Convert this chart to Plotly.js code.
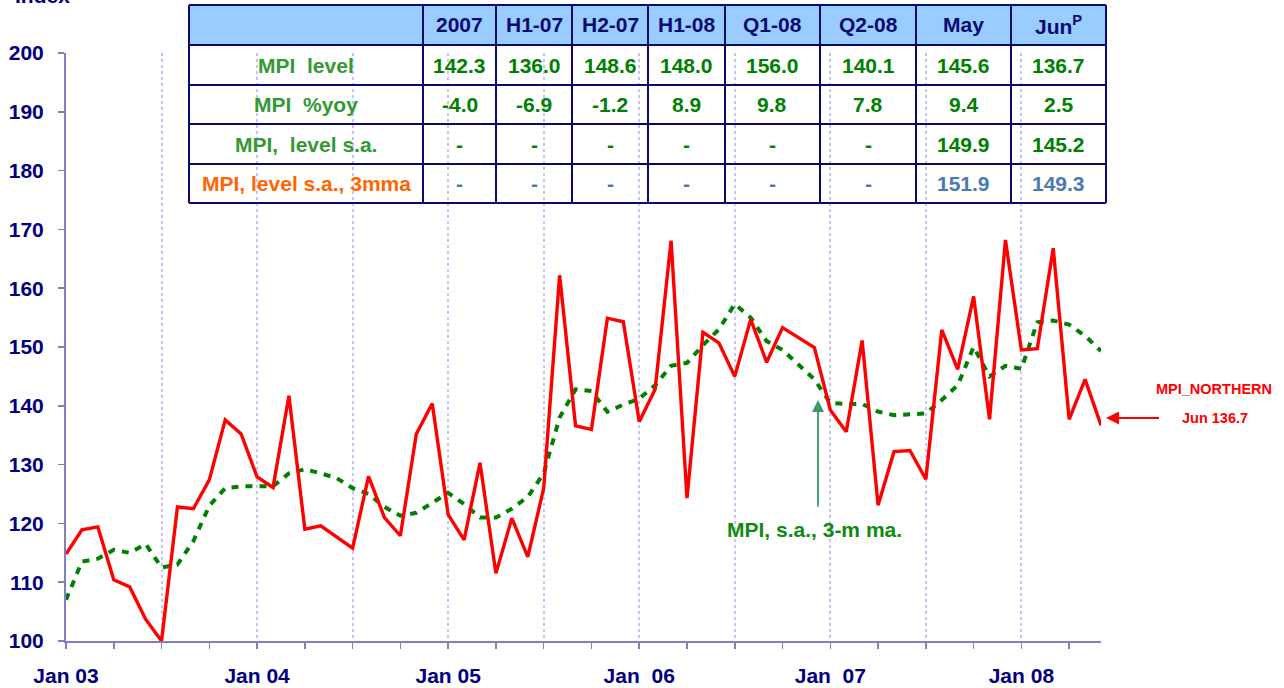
<!DOCTYPE html>
<html>
<head>
<meta charset="utf-8">
<script src="https://cdn.plot.ly/plotly-3.0.1.min.js"></script>
<style>html,body{margin:0;padding:0;background:#fff;}#chart{width:1284px;height:688px;}</style>
</head>
<body>
<div id="chart"></div>
<script>
// ---------- DATA ----------
var monthLabels = ['Jan 03','Jan 04','Jan 05','Jan\u00a0 06','Jan\u00a0 07','Jan 08'];
var mpiNorthern = [114.8,118.9,119.4,110.4,109.2,103.7,100.0,122.8,122.5,127.4,137.6,135.2,
  127.9,126.1,141.7,119.0,119.6,117.7,115.8,128.0,121.0,117.9,135.2,140.4,
  121.5,117.2,130.3,111.5,120.9,114.3,126.0,162.2,136.6,136.0,154.9,154.3,
  137.3,142.8,168.1,124.3,152.5,150.7,145.0,154.7,147.4,153.3,151.6,149.9,
  139.3,135.6,151.1,123.1,132.2,132.4,127.5,152.9,146.2,158.6,137.7,168.2,
  149.5,149.7,166.8,137.7,144.5,136.7];
var mpiSa3mma = [107.0,113.5,114.0,115.5,115.0,116.5,112.5,113.0,117.0,123.0,126.0,126.3,
  126.3,126.3,128.5,129.2,128.5,127.7,126.0,125.0,122.8,121.3,121.8,123.5,
  125.2,123.3,121.0,121.0,122.5,124.5,128.5,138.0,142.8,142.5,139.0,140.2,
  141.2,143.5,146.8,147.3,150.3,153.0,157.3,155.0,151.0,149.5,147.0,144.5,
  140.5,140.3,140.3,139.0,138.4,138.6,138.7,141.0,143.5,150.0,145.0,146.8,
  146.3,154.2,154.5,153.8,151.9,149.3];
var tableHeaders = ['2007','H1-07','H2-07','H1-08','Q1-08','Q2-08','May','Jun<sup>P</sup>'];
var rowLabels = ['MPI  level','MPI  %yoy','MPI,  level s.a.','MPI, level s.a., 3mma'];
var rowLevel = ['142.3','136.0','148.6','148.0','156.0','140.1','145.6','136.7'];
var rowYoy = ['-4.0','-6.9','-1.2','8.9','9.8','7.8','9.4','2.5'];
var rowSa = ['-','-','-','-','-','-','149.9','145.2'];
var rowSa3 = ['-','-','-','-','-','-','151.9','149.3'];

// ---------- LAYOUT HELPERS ----------
var L = 66, R = 1101, T = 53, B = 641;
function px(p){ return (p - L) / (R - L); }
function py(p){ return (B - p) / (B - T); }
var FONT = 'Liberation Sans, Arial, sans-serif';
var NAVY = '#000080';
var AXC = '#8080c0';

var xIdx = mpiNorthern.map(function(_, i){ return i; });
var tickVals = [], tickText = [];
for (var k = 0; k <= 60; k += 6) {
  tickVals.push(k);
  tickText.push(k % 12 === 0 ? monthLabels[k / 12] : '');
}

var traces = [
  {x: xIdx, y: mpiSa3mma, type: 'scatter', mode: 'lines', name: 'MPI, s.a., 3-m ma.',
   line: {color: '#008000', width: 4, dash: '7px,7px'}},
  {x: xIdx, y: mpiNorthern, type: 'scatter', mode: 'lines', name: 'MPI_NORTHERN',
   line: {color: '#ff0000', width: 3.4}}
];

// ---------- TABLE ----------
var colEdges = [189, 423, 496, 572, 648, 725, 820, 916, 1011, 1106];
var rowEdges = [5, 45, 85, 124, 164, 203];
var shapes = [];
shapes.push({type: 'rect', xref: 'paper', yref: 'paper', x0: px(colEdges[0]), x1: px(colEdges[colEdges.length-1]),
  y0: py(rowEdges[0]), y1: py(rowEdges[1]), fillcolor: '#99ccff', line: {width: 0}, layer: 'below'});
rowEdges.forEach(function(r){
  shapes.push({type: 'line', xref: 'paper', yref: 'paper', x0: px(colEdges[0]), x1: px(colEdges[colEdges.length-1]),
    y0: py(r), y1: py(r), line: {color: '#0a0a6e', width: 2}});
});
colEdges.forEach(function(c){
  shapes.push({type: 'line', xref: 'paper', yref: 'paper', x0: px(c), x1: px(c),
    y0: py(rowEdges[0]), y1: py(rowEdges[rowEdges.length-1]), line: {color: '#0a0a6e', width: 2}});
});
// arrow shafts
shapes.push({type: 'line', xref: 'paper', yref: 'paper', x0: px(818), x1: px(818), y0: py(507), y1: py(410),
  line: {color: '#3a9a6a', width: 1.5}});
shapes.push({type: 'line', xref: 'paper', yref: 'paper', x0: px(1159), x1: px(1115), y0: py(418), y1: py(418),
  line: {color: '#ff0000', width: 2}});

var annotations = [];
function cellText(text, ci, ri, color) {
  annotations.push({xref: 'paper', yref: 'paper', x: px((colEdges[ci] + colEdges[ci+1]) / 2),
    y: py((rowEdges[ri] + rowEdges[ri+1]) / 2), xanchor: 'center', yanchor: 'middle',
    text: '<b>' + text + '</b>', showarrow: false,
    font: {family: FONT, size: 21, color: color}});
}
tableHeaders.forEach(function(h, i){ cellText(h, i + 1, 0, '#0a0a6e'); });
var labelColors = ['#339933', '#339933', '#339933', '#ff6600'];
rowLabels.forEach(function(l, i){ cellText(l.replace(/  /g, ' \u00a0'), 0, i + 1, labelColors[i]); });
var rowsData = [rowLevel, rowYoy, rowSa, rowSa3];
var valColors = ['#008000', '#008000', '#008000', '#4a7ab0'];
rowsData.forEach(function(row, ri){
  row.forEach(function(v, ci){ cellText(v, ci + 1, ri + 1, valColors[ri]); });
});

// ---------- OTHER ANNOTATIONS ----------
annotations.push({xref: 'paper', yref: 'paper', x: px(13), y: py(9), xanchor: 'left', yanchor: 'bottom',
  text: '<b>Index</b>', showarrow: false, font: {family: FONT, size: 21, color: NAVY}});
annotations.push({xref: 'paper', yref: 'paper', x: px(725), y: py(529), xanchor: 'left', yanchor: 'middle',
  text: '<b>MPI, s.a., 3-m ma.</b>', showarrow: false, font: {family: FONT, size: 21, color: '#108a10'}});
annotations.push({xref: 'paper', yref: 'paper', x: px(818), y: py(400), text: ' ', showarrow: true,
  ax: 0, ay: 107, arrowhead: 2, arrowsize: 1.6, arrowwidth: 1.5, arrowcolor: '#3a9a6a', standoff: 0, startstandoff: 0,
  font: {size: 2}});
annotations.push({xref: 'paper', yref: 'paper', x: px(1214), y: py(389), xanchor: 'center', yanchor: 'middle',
  text: '<b>MPI_NORTHERN</b>', showarrow: false, font: {family: FONT, size: 14.5, color: '#ff0000'}});
annotations.push({xref: 'paper', yref: 'paper', x: px(1215), y: py(418), xanchor: 'center', yanchor: 'middle',
  text: '<b>Jun 136.7</b>', showarrow: false, font: {family: FONT, size: 14.5, color: '#ff0000'}});
annotations.push({xref: 'paper', yref: 'paper', x: px(1106), y: py(418), text: ' ', showarrow: true,
  ax: 53, ay: 0, arrowhead: 2, arrowsize: 1.3, arrowwidth: 2, arrowcolor: '#ff0000', standoff: 0, startstandoff: 0,
  font: {size: 2}});

var layout = {
  width: 1284, height: 688,
  margin: {l: L, r: 1284 - R, t: T, b: 688 - B, pad: 0},
  paper_bgcolor: '#ffffff', plot_bgcolor: '#ffffff',
  showlegend: false,
  font: {family: FONT, color: NAVY},
  xaxis: {
    range: [0, 65], tickmode: 'array', tickvals: tickVals, ticktext: tickText,
    showgrid: true, gridcolor: '#c4c4f8', griddash: 'dot', gridwidth: 2,
    ticks: 'outside', ticklen: 6, tickwidth: 1.5, tickcolor: AXC,
    showline: true, linecolor: AXC, linewidth: 2, zeroline: false,
    tickfont: {family: FONT, size: 21, color: NAVY, weight: 'bold'},
    ticklabelstandoff: 9,
    minor: {dtick: 3, tick0: 0, ticks: 'outside', ticklen: 6, tickwidth: 1.5, tickcolor: AXC, showgrid: false}
  },
  yaxis: {
    range: [100, 200], dtick: 10, tick0: 100,
    showgrid: false, zeroline: false,
    ticks: 'outside', ticklen: 6, tickwidth: 1.5, tickcolor: AXC,
    showline: true, linecolor: AXC, linewidth: 2,
    tickfont: {family: FONT, size: 21, color: NAVY, weight: 'bold'},
    ticklabelstandoff: 10
  },
  shapes: shapes,
  annotations: annotations
};

Plotly.newPlot('chart', traces, layout, {staticPlot: true, displayModeBar: false});
</script>
</body>
</html>
